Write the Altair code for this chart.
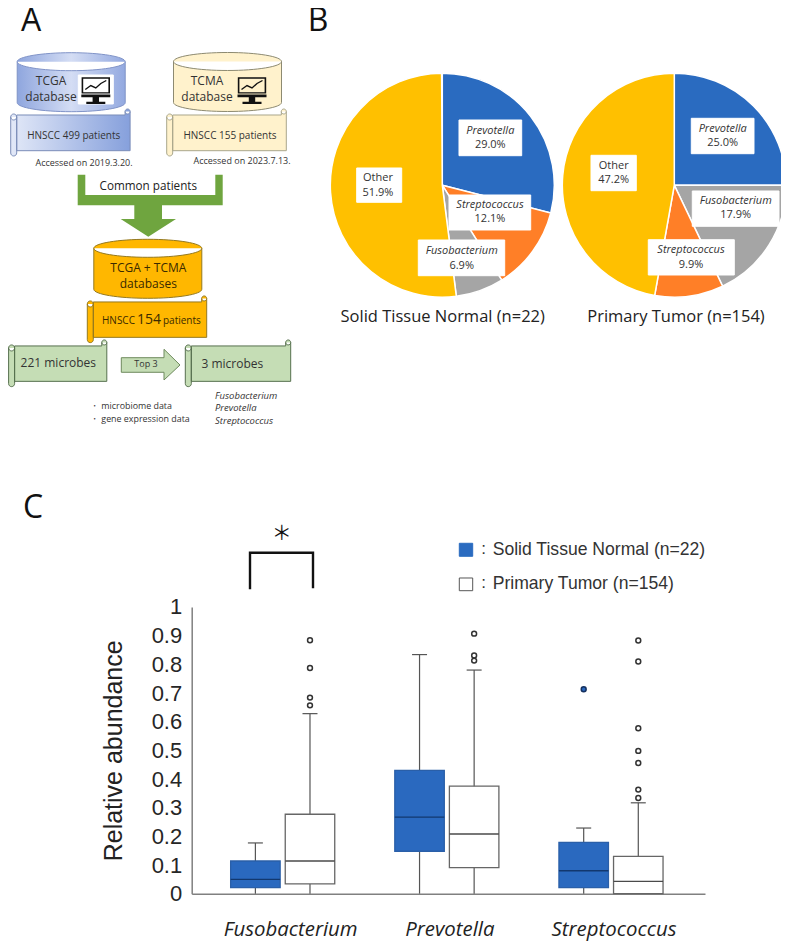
import altair as alt
import pandas as pd

# ---------- chart values ----------
pie_left_names = ["Prevotella", "Streptococcus", "Fusobacterium", "Other"]
pie_left_vals = [29.0, 12.1, 6.9, 51.9]
pie_right_names = ["Prevotella", "Fusobacterium", "Streptococcus", "Other"]
pie_right_vals = [25.0, 17.9, 9.9, 47.2]

genera = ["Fusobacterium", "Prevotella", "Streptococcus"]
series = ["Normal", "Tumor"]
box_genus = ["Fusobacterium", "Fusobacterium", "Prevotella", "Prevotella", "Streptococcus", "Streptococcus"]
box_series = ["Normal", "Tumor", "Normal", "Tumor", "Normal", "Tumor"]
box_q1 = [0.021, 0.034, 0.148, 0.091, 0.021, 0.0]
box_med = [0.05, 0.114, 0.267, 0.208, 0.08, 0.043]
box_q3 = [0.114, 0.277, 0.43, 0.375, 0.179, 0.13]
box_hi = [0.177, 0.628, 0.834, 0.78, 0.229, 0.317]
out_genus = ["Fusobacterium"] * 4 + ["Prevotella"] * 3 + ["Streptococcus"] * 8
out_series = ["Tumor"] * 7 + ["Normal"] + ["Tumor"] * 7
out_val = [0.884, 0.787, 0.684, 0.657, 0.907, 0.831, 0.813, 0.713,
           0.883, 0.81, 0.577, 0.498, 0.456, 0.363, 0.334]
y_ticks = [0, .1, .2, .3, .4, .5, .6, .7, .8, .9, 1]

# ---------- page geometry ----------
L, T, W, H = 183.7, 599.0, 513.3, 286.7
ox, oy = 8 + L, 8 + T
X = alt.Scale(domain=[0, 789], range=[-ox, 789 - ox], zero=False, nice=False)
Y = alt.Scale(domain=[0, 943], range=[-oy, 943 - oy], zero=False, nice=False)
def xpos(f="x"): return alt.X(f"{f}:Q", scale=X, axis=None)
def ypos(f="y"): return alt.Y(f"{f}:Q", scale=Y, axis=None)

S = 100.0
def P(x, y): return f"{x/S:.4f},{y/S:.4f}"
def Arc(rx, ry, sweep, x, y): return f"A{rx/S:.4f},{ry/S:.4f} 0 0 {sweep} {P(x, y)}"
def poly(pts, cx, cy):
    return "M" + " L".join(P(a - cx, b - cy) for a, b in pts) + " Z"

def cylinder(w, h, ry):
    a, t, b = w / 2, -h / 2 + ry, h / 2 - ry
    return (f"M{P(-a,t)} {Arc(a,ry,1,a,t)} L{P(a,b)} {Arc(a,ry,1,-a,b)} Z "
            f"M{P(-a,t)} {Arc(a,ry,0,a,t)}")

def scroll(w, h):
    a, b = w / 2, h / 2
    top, bot = -b + 6, b - 5.3
    return (f"M{P(-a+6,top)} L{P(a-6,top)} L{P(a-6,-b+2.5)} {Arc(2.5,2.5,1,a-1,-b+2.5)} "
            f"L{P(a-1,bot)} L{P(-a+6,bot)} Z "
            f"M{P(-a,top+2)} {Arc(3,3,1,-a+6,top+2)} L{P(-a+6,b-3)} {Arc(3,3,1,-a,b-3)} Z "
            f"M{P(-a,top+2)} {Arc(3,3,0,-a+6,top+2)} "
            f"M{P(a-6,-b+2.5)} {Arc(2.5,2.5,0,a-1,-b+2.5)}")

def symbol(path, cx, cy, fill=None, stroke=None, sw=1.0):
    kw = dict(shape=path, size=(2 * S) ** 2, opacity=1, strokeWidth=sw)
    if fill is not None:
        kw.update(filled=True, fill=fill)
    else:
        kw.update(filled=False)
    if stroke is not None:
        kw["stroke"] = stroke
    return alt.Chart(pd.DataFrame({"x": [cx], "y": [cy]})).mark_point(**kw).encode(x=xpos(), y=ypos())

def grad(c0, c1, c2=None):
    stops = [alt.GradientStop(color=c0, offset=0)]
    if c2:
        stops.append(alt.GradientStop(color=c2, offset=0.5))
    stops.append(alt.GradientStop(color=c1, offset=1))
    return alt.LinearGradient(gradient="linear", stops=stops, x1=0, x2=1, y1=0, y2=0)

layers = []

# ---------- panel A shapes ----------
CYL = cylinder(108, 59, 9)
layers.append(symbol(CYL, 71.2, 82.2, grad("#8fa6de", "#93a9e0", "#d4ddf4"), "#7f93c7"))
layers.append(symbol(CYL, 227.5, 82.0, "#FFF2CC", "#8d8a70"))
layers.append(symbol(scroll(120.4, 47), 70.9, 132.5, grad("#e3e9f8", "#86a0dc"), "#7a8db8"))
layers.append(symbol(scroll(120.6, 47), 227.0, 132.5, "#FFF2CC", "#a9a68c"))
connector = [(77.7,174.7),(85.3,174.7),(85.3,195),(215.3,195),(215.3,174.7),(222.7,174.7),
             (222.7,205.3),(162,205.3),(162,219),(176,219),(148.3,236.7),(120.7,219),
             (134.3,219),(134.3,205.3),(77.7,205.3)]
layers.append(symbol(poly(connector, 150, 205.7), 150, 205.7, "#6FA53F"))
layers.append(symbol(CYL, 147.8, 268.8, "#FFB700", "#94781f"))
layers.append(symbol(scroll(120.4, 46.7), 147.5, 319.3, "#FFB700", "#94781f"))
layers.append(symbol(scroll(99.2, 46.7), 58.2, 363.3, "#C5DDB5", "#566f4e"))
layers.append(symbol(scroll(106.4, 46.7), 238.5, 363.3, "#C5DDB5", "#566f4e"))
top3 = [(121.3,357.7),(164,357.7),(164,349.3),(180,365),(164,380),(164,372.3),(121.3,372.3)]
layers.append(symbol(poly(top3, 150, 365), 150, 365, "#C5DDB5", "#6d8a5c"))

# ---------- pies ----------
pie_domain = ["Prevotella", "Streptococcus", "Fusobacterium", "Other"]
pie_range = ["#2A6BC0", "#FF7F27", "#A5A5A5", "#FFC000"]
def pie(names, vals, cx, cy):
    rows, acc = [], 0.0
    for n, v in zip(names, vals):
        rows.append(dict(name=n, start=acc, end=acc + v, x=cx, y=cy))
        acc += v
    return alt.Chart(pd.DataFrame(rows)).mark_arc(outerRadius=112, stroke="white", strokeWidth=1.5).encode(
        x=xpos(), y=ypos(),
        theta=alt.Theta("start:Q", stack=None, scale=alt.Scale(domain=[0, 100], range=[0, 6.2832])),
        theta2="end:Q",
        color=alt.Color("name:N", scale=alt.Scale(domain=pie_domain, range=pie_range), legend=None),
    )
layers.append(pie(pie_left_names, pie_left_vals, 442.3, 185.2))
layers.append(pie(pie_right_names, pie_right_vals, 674.3, 185.2))

# ---------- rectangles ----------
rects = pd.DataFrame(
    [(459, 521.7, 120, 155.7, "white", "white"), (356.7, 401.7, 168, 202.3, "white", "white"),
     (449, 530.7, 195, 230, "white", "white"), (418.3, 504.7, 240, 275.7, "white", "white"),
     (691.3, 754, 118.3, 153.7, "white", "white"), (692.3, 779, 191, 226.3, "white", "white"),
     (648.3, 734.3, 239.7, 275, "white", "white"), (591, 636.3, 155.3, 190.7, "white", "white"),
     (78.3, 113.3, 75, 104, "white", "white"),
     (459.3, 472.7, 543.3, 556.3, "#2A6BC0", "#2A6BC0"), (459.3, 472.7, 578, 590.7, "white", "#555555")],
    columns=["x", "x2", "y", "y2", "f", "s"])
layers.append(alt.Chart(rects).mark_rect(strokeWidth=1).encode(
    x=xpos(), x2="x2:Q", y=ypos(), y2="y2:Q",
    fill=alt.Fill("f:N", scale=None), stroke=alt.Stroke("s:N", scale=None)))

# ---------- monitors ----------
monitor = (poly([(-14.2,-13.7),(14.2,-13.7),(14.2,2.5),(-14.2,2.5)], 0, 0) + " " +
           poly([(-12.6,-12.2),(-12.6,1.2),(12.6,1.2),(12.6,-12.2)], 0, 0) + " " +
           poly([(-14.5,3.5),(14.5,3.5),(14.5,6.2),(3.2,6.2),(3.2,10.8),(9.5,10.8),(9.5,13),
                 (-9.5,13),(-9.5,10.8),(-3.2,10.8),(-3.2,6.2),(-14.5,6.2)], 0, 0))
trend = "M" + " L".join(P(a, b) for a, b in [(-10.5,-1.5),(-5,-5.5),(0,-3),(5,-7.5),(10.5,-10.5)])
for cx in (95.8, 252.0):
    layers.append(symbol(monitor, cx, 91, "#111111"))
    layers.append(symbol(trend, cx, 91, None, "#111111", 1.4))

# ---------- bracket ----------
bracket = pd.DataFrame({"x": [250, 250, 313, 313], "y": [589.3, 552.7, 552.7, 588.3], "o": [0, 1, 2, 3]})
layers.append(alt.Chart(bracket).mark_line(color="#111111", strokeWidth=2.4, strokeJoin="miter").encode(
    x=xpos(), y=ypos(), order="o:Q"))

# ---------- text ----------
OS, LS, CJK = "Open Sans", "Liberation Sans", "Noto Sans CJK JP"
DK = "#333333"
texts = [
    # text, x, y, size, font, italic, align, color
    ("A", 31, 21, 32, OS, False, "center", "#111111"),
    ("B", 318, 21, 32, OS, False, "center", "#111111"),
    ("C", 33, 508, 32, OS, False, "center", "#111111"),
    ("TCGA", 51, 81, 12, OS, False, "center", DK),
    ("database", 51, 97, 12, OS, False, "center", DK),
    ("TCMA", 207, 81, 12, OS, False, "center", DK),
    ("database", 207, 97, 12, OS, False, "center", DK),
    ("HNSCC 499 patients", 73.7, 135.7, 10, OS, False, "center", DK),
    ("HNSCC 155 patients", 230, 135.7, 10, OS, False, "center", DK),
    ("Accessed on 2019.3.20.", 84, 162.7, 9, OS, False, "center", DK),
    ("Accessed on 2023.7.13.", 242, 160.7, 9, OS, False, "center", DK),
    ("Common patients", 148.3, 186, 11.7, OS, False, "center", "#222222"),
    ("TCGA + TCMA", 148.3, 268.3, 12, OS, False, "center", "#3a2a00"),
    ("databases", 148.3, 284.3, 12, OS, False, "center", "#3a2a00"),
    ("HNSCC", 102, 321, 10, OS, False, "left", "#3a2a00"),
    ("154", 137, 320, 14, OS, False, "left", "#3a2a00"),
    ("patients", 163, 321, 10, OS, False, "left", "#3a2a00"),
    ("221 microbes", 58.3, 363.3, 12, OS, False, "center", DK),
    ("3 microbes", 232.3, 364.3, 12, OS, False, "center", DK),
    ("Top 3", 146, 364.3, 9, OS, False, "center", DK),
    ("・ microbiome data", 90, 406, 8.9, OS, False, "left", DK),
    ("・ gene expression data", 90, 418.7, 8.9, OS, False, "left", DK),
    ("Fusobacterium", 215, 395.7, 9.5, OS, True, "left", DK),
    ("Prevotella", 215, 408, 9.5, OS, True, "left", DK),
    ("Streptococcus", 215, 420.7, 9.5, OS, True, "left", DK),
    ("Solid Tissue Normal (n=22)", 442.7, 316.7, 16.5, OS, False, "center", "#222222"),
    ("Primary Tumor (n=154)", 676, 316.7, 16.5, OS, False, "center", "#222222"),
    ("Prevotella", 490.3, 131, 11, OS, True, "center", DK),
    ("29.0%", 490.3, 145, 11, OS, False, "center", DK),
    ("Other", 378, 178, 11, OS, False, "center", DK),
    ("51.9%", 378, 192.7, 11, OS, False, "center", DK),
    ("Streptococcus", 490, 205.3, 11, OS, True, "center", DK),
    ("12.1%", 490, 219.3, 11, OS, False, "center", DK),
    ("Fusobacterium", 461.7, 251, 11, OS, True, "center", DK),
    ("6.9%", 461.7, 265.7, 11, OS, False, "center", DK),
    ("Prevotella", 722.7, 129, 11, OS, True, "center", DK),
    ("25.0%", 722.7, 143.3, 11, OS, False, "center", DK),
    ("Fusobacterium", 735.7, 201, 11, OS, True, "center", DK),
    ("17.9%", 735.7, 215.3, 11, OS, False, "center", DK),
    ("Streptococcus", 691, 250.3, 11, OS, True, "center", DK),
    ("9.9%", 691, 265, 11, OS, False, "center", DK),
    ("Other", 613.7, 165.7, 11, OS, False, "center", DK),
    ("47.2%", 613.7, 180, 11, OS, False, "center", DK),
    ("＊", 281.7, 534, 20, CJK, False, "center", "#111111"),
    (":", 483.5, 549, 17, LS, False, "center", DK),
    (":", 483.5, 583.5, 17, LS, False, "center", DK),
    ("Solid Tissue Normal (n=22)", 492.7, 550, 17.6, LS, False, "left", DK),
    ("Primary Tumor (n=154)", 492.7, 584.3, 17.6, LS, False, "left", DK),
]
tdf = pd.DataFrame(texts, columns=["t", "x", "y", "size", "font", "it", "al", "col"])
for (font, it, al), g in tdf.groupby(["font", "it", "al"], sort=False):
    layers.append(alt.Chart(g).mark_text(font=font, fontStyle="italic" if it else "normal",
                                         align=al, baseline="middle").encode(
        x=xpos(), y=ypos(), text="t:N",
        size=alt.Size("size:Q", scale=None),
        color=alt.Color("col:N", scale=None)))

# ---------- box plot ----------
boxes = pd.DataFrame(dict(g=box_genus, s=box_series, q1=box_q1, med=box_med, q3=box_q3, hi=box_hi, lo=[0.0]*6))
outs = pd.DataFrame(dict(g=out_genus, s=out_series, v=out_val))
BX = alt.Scale(domain=genera, paddingInner=0, paddingOuter=0.0635, align=0.428)
BY = alt.Scale(domain=[0, 1], zero=False, nice=False)
OFF = alt.XOffset("s:N", scale=alt.Scale(type="point", domain=series, range=[82.07 - 27.3, 82.07 + 27.3], padding=0))
bx_noaxis = alt.X("g:N", scale=BX, axis=None, sort=genera)
def by_noaxis(f): return alt.Y(f"{f}:Q", scale=BY, axis=None)
x_axis = alt.Axis(title=None, labelAngle=0, labelFont=OS, labelFontStyle="italic", labelFontSize=20.4,
                  labelColor="#222222", labelPadding=26,
                  labelOffset={"condition": {"test": "datum.value == 'Fusobacterium'", "value": 8}, "value": 3},
                  ticks=False, domainColor="#808080", domainWidth=1.5, grid=False)
y_axis = alt.Axis(values=y_ticks, labelExpr="toString(round(datum.value*10)/10)", title="Relative abundance",
                  titleFont=LS, titleFontSize=25, titleFontWeight="normal", titleColor="#222222",
                  titlePadding=25, labelFont=LS, labelFontSize=22, labelColor="#262626", labelPadding=10,
                  ticks=False, domainColor="#808080", domainWidth=1.5, grid=False, labelOverlap=False)

base_box = alt.Chart(boxes)
layers.append(base_box.mark_rule(color="#555555", strokeWidth=1.2).encode(
    x=alt.X("g:N", scale=BX, axis=x_axis, sort=genera), xOffset=OFF,
    y=alt.Y("lo:Q", scale=BY, axis=y_axis), y2="hi:Q"))
layers.append(base_box.mark_tick(orient="horizontal", size=15, thickness=1.2, color="#555555", opacity=1).encode(
    x=bx_noaxis, xOffset=OFF, y=by_noaxis("hi")))
box_fill = alt.Scale(domain=series, range=["#2A69BF", "#FFFFFF"])
box_stroke = alt.Scale(domain=series, range=["#2A5FA8", "#666666"])
layers.append(base_box.mark_bar(size=49.5, strokeWidth=1.3, opacity=1).encode(
    x=bx_noaxis, xOffset=OFF, y=by_noaxis("q1"), y2="q3:Q",
    fill=alt.Fill("s:N", scale=box_fill, legend=None),
    stroke=alt.Stroke("s:N", scale=box_stroke, legend=None)))
layers.append(base_box.mark_tick(orient="horizontal", size=49.5, thickness=1.4, opacity=1).encode(
    x=bx_noaxis, xOffset=OFF, y=by_noaxis("med"),
    color=alt.Color("s:N", scale=alt.Scale(domain=series, range=["#12386F", "#4A4A4A"]), legend=None)))
layers.append(alt.Chart(outs).mark_point(filled=True, size=24, strokeWidth=1.5, opacity=1).encode(
    x=bx_noaxis, xOffset=OFF, y=by_noaxis("v"),
    fill=alt.Fill("s:N", scale=alt.Scale(domain=series, range=["#2A69BF", "#FFFFFF"]), legend=None),
    stroke=alt.Stroke("s:N", scale=alt.Scale(domain=series, range=["#14305F", "#333333"]), legend=None)))

chart = alt.layer(*layers).resolve_scale(
    x="independent", y="independent", color="independent", fill="independent", stroke="independent",
    theta="independent", size="independent"
).properties(
    width=W, height=H, background="white",
    padding={"left": L, "top": T, "right": 76, "bottom": 49},
    autosize=alt.AutoSizeParams(type="none"),
).configure_view(stroke=None)

chart.save("out.html", embed_options={"renderer": "svg", "actions": False})
